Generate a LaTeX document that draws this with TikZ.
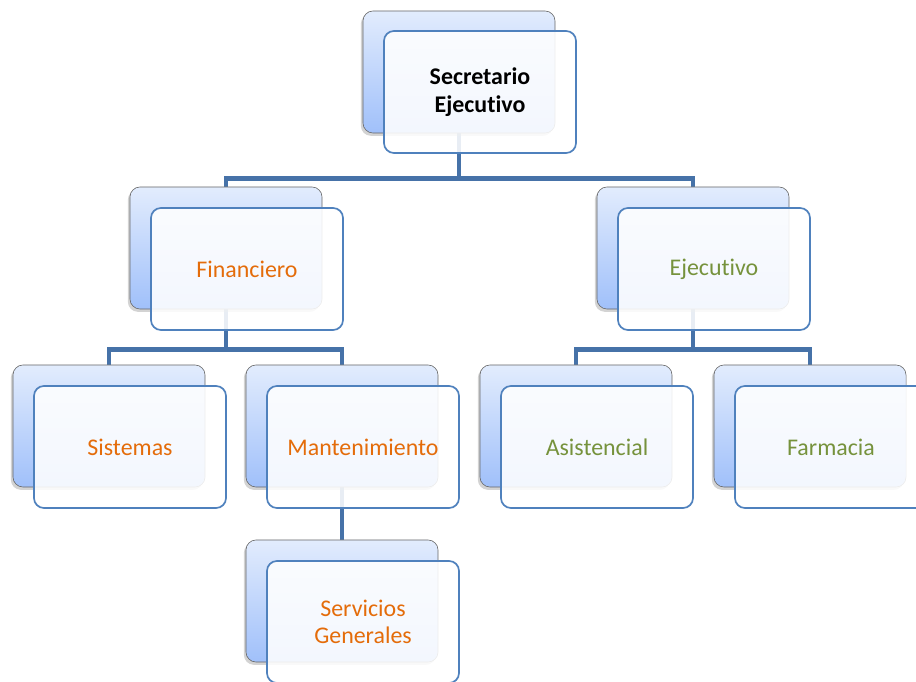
\documentclass[tikz,border=0pt]{standalone}
\usepackage{fontspec}
\setmainfont[Ligatures={NoCommon}]{Carlito}
\usetikzlibrary{shadows,backgrounds}
\definecolor{linkblue}{RGB}{70,114,168}
\definecolor{boxblue}{RGB}{79,129,189}
\definecolor{orangetxt}{RGB}{228,108,10}
\definecolor{greentxt}{RGB}{118,146,60}
\definecolor{backtop}{RGB}{226,236,253}
\definecolor{backbot}{RGB}{160,192,250}
\tikzset{
  backbox/.style={draw=black!60, rounded corners=0.25cm, minimum width=4.8cm,
    minimum height=3.05cm, inner sep=0pt, top color=backtop, bottom color=backbot,
    drop shadow={shadow xshift=-1.5pt, shadow yshift=-2pt, opacity=0.35}},
  frontbox/.style={draw=boxblue, line width=1.2pt, rounded corners=0.25cm,
    minimum width=4.8cm, minimum height=3.05cm, inner sep=0pt, fill=white,
    fill opacity=0.88, text opacity=1, align=center,
    font=\fontsize{17}{19.5}\selectfont},
  link/.style={draw=linkblue, line width=3.5pt}
}
\begin{document}
\begin{tikzpicture}[x=0.025cm, y=-0.025cm]
    \clip (0,0) rectangle (916,682);
    % top level
    \node[backbox] (top-b) at (459,72) {};
    \node[frontbox, font=\fontsize{17}{19.5}\selectfont\bfseries] (top) at (480,92) {Secretario\\Ejecutivo};
    % second level
    \node[backbox] (fin-b) at (226,248) {};
    \node[frontbox, text=orangetxt] (fin) at (247,269) {Financiero};
    \node[backbox] (eje-b) at (693,248) {};
    \node[frontbox, text=greentxt] (eje) at (714,269) {Ejecutivo};
    % third level
    \node[backbox] (sis-b) at (109,426) {};
    \node[frontbox, text=orangetxt] (sis) at (130,447) {Sistemas};
    \node[backbox] (man-b) at (342,426) {};
    \node[frontbox, text=orangetxt] (man) at (363,447) {Mantenimiento};
    \node[backbox] (asi-b) at (576,426) {};
    \node[frontbox, text=greentxt] (asi) at (597,447) {Asistencial};
    \node[backbox] (far-b) at (810,426) {};
    \node[frontbox, text=greentxt] (far) at (831,447) {Farmacia};
    % fourth level
    \node[backbox] (ser-b) at (342,601) {};
    \node[frontbox, text=orangetxt] (ser) at (363,622) {Servicios\\Generales};
    % connectors
    \begin{scope}[on background layer]
        \draw[link] (top-b.south) -- ++(0,45) -| (fin-b.north);
        \draw[link] (top-b.south) -- ++(0,45) -| (eje-b.north);
        \draw[link] (fin-b.south) -- ++(0,40) -| (sis-b.north);
        \draw[link] (fin-b.south) -- ++(0,40) -| (man-b.north);
        \draw[link] (eje-b.south) -- ++(0,40) -| (asi-b.north);
        \draw[link] (eje-b.south) -- ++(0,40) -| (far-b.north);
        \draw[link] (man-b.south) -- (ser-b.north);
    \end{scope}
\end{tikzpicture}
\end{document}
